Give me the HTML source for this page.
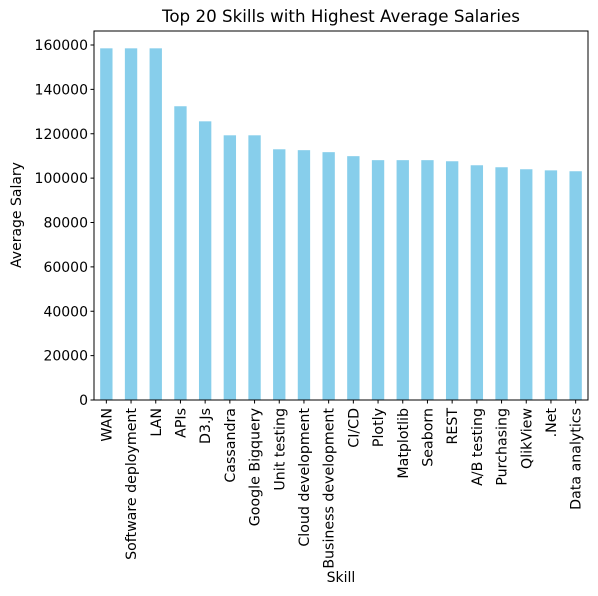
<!DOCTYPE html>
<html><head><meta charset="utf-8"><style>
html,body{margin:0;padding:0;background:#fff;}
svg{display:block;font-family:"DejaVu Sans","Liberation Sans",sans-serif;}
</style></head><body>
<svg id="chart" width="598" height="596">
<text x="341" y="22" text-anchor="middle" font-size="16.7">Top 20 Skills with Highest Average Salaries</text>
<g id="bars"></g><g id="yt"></g><g id="xt"></g>
<rect x="94" y="31" width="494" height="369" fill="none" stroke="#000" stroke-width="1"/>
<text x="341" y="582" text-anchor="middle" font-size="14">Skill</text>
<text transform="translate(21,215) rotate(-90)" text-anchor="middle" font-size="14">Average Salary</text>
</svg>
<script>
const categories=["WAN","Software deployment","LAN","APIs","D3.Js","Cassandra","Google Bigquery","Unit testing","Cloud development","Business development","CI/CD","Plotly","Matplotlib","Seaborn","REST","A/B testing","Purchasing","QlikView",".Net","Data analytics"];
const salaries=[158500,158500,158500,132400,125600,119300,119300,113000,112600,111700,109900,108100,108100,108100,107600,105800,104900,104000,103500,103100];
const yTicks=[0,20000,40000,60000,80000,100000,120000,140000,160000];
const NS="http://www.w3.org/2000/svg";
const L=94,R=588,B=400;
const y=v=>B-v*(355/160000);
const step=(R-L)/categories.length;
const x=i=>L+step*(i+0.5);
const bars=document.getElementById('bars'),yt=document.getElementById('yt'),xt=document.getElementById('xt');
function mk(t,a,p){const e=document.createElementNS(NS,t);for(const k in a)e.setAttribute(k,a[k]);p.appendChild(e);return e;}
salaries.forEach((v,i)=>{
 const r=mk('rect',{x:x(i)-step*0.25,y:y(v),width:step*0.5,height:B-y(v),fill:'#87ceeb'},bars);
 
 
 mk('line',{x1:x(i),x2:x(i),y1:B,y2:B+3.5,stroke:'#000'},xt);
 const t=mk('text',{transform:`translate(${x(i)+5},${B+8}) rotate(-90)`,'text-anchor':'end','font-size':'14.2'},xt);
 t.textContent=categories[i];
 
 
});
yTicks.forEach(v=>{
 mk('line',{x1:L-3.5,x2:L,y1:y(v),y2:y(v),stroke:'#000'},yt);
 const t=mk('text',{x:L-6,y:y(v)+5,'text-anchor':'end','font-size':'14'},yt);
 t.textContent=v;
 
 
});
</script>
</body></html>
